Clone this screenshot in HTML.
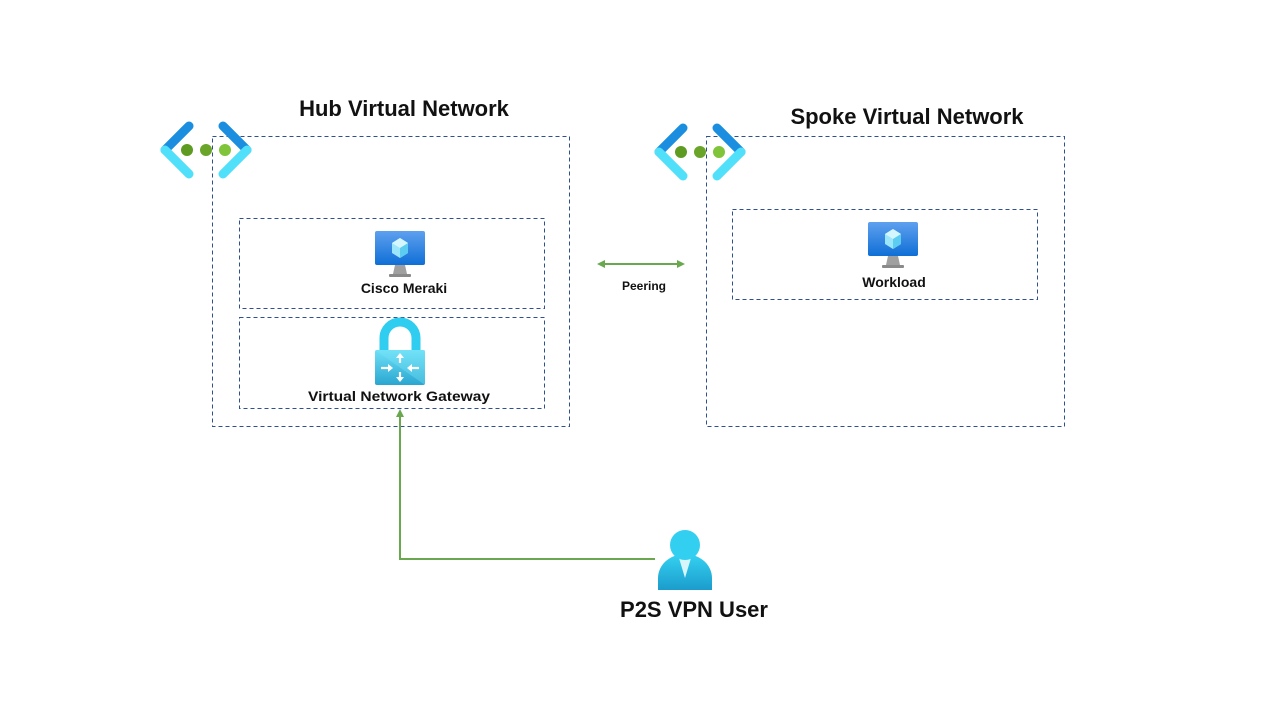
<!DOCTYPE html>
<html><head><meta charset="utf-8"><style>
html,body{margin:0;padding:0;background:#fff;width:1280px;height:720px;overflow:hidden}
svg text{font-family:"Liberation Sans",sans-serif;fill:#111}
</style></head><body>
<svg width="1280" height="720" viewBox="0 0 1280 720" xmlns="http://www.w3.org/2000/svg">
<defs>
<linearGradient id="scr" x1="0" y1="0" x2="0" y2="1"><stop offset="0" stop-color="#5ea0ef"/><stop offset="1" stop-color="#0f6fd6"/></linearGradient>
<linearGradient id="lock" x1="0" y1="0" x2="0" y2="1"><stop offset="0" stop-color="#6ee0f7"/><stop offset="1" stop-color="#2aa6d0"/></linearGradient>
<linearGradient id="usr" x1="0" y1="0" x2="0" y2="1"><stop offset="0" stop-color="#35d2f2"/><stop offset="1" stop-color="#1b9ccc"/></linearGradient>
<g id="vnet">
<line x1="28" y1="4" x2="4" y2="28" stroke="#1b8ee0" stroke-width="9" stroke-linecap="round"/>
<line x1="4" y1="28" x2="28" y2="52" stroke="#50e0fa" stroke-width="9" stroke-linecap="round"/>
<line x1="62" y1="4" x2="86" y2="28" stroke="#1b8ee0" stroke-width="9" stroke-linecap="round"/>
<line x1="86" y1="28" x2="62" y2="52" stroke="#50e0fa" stroke-width="9" stroke-linecap="round"/>
<circle cx="26" cy="28" r="6" fill="#5e9b22"/>
<circle cx="45" cy="28" r="6" fill="#6aa52a"/>
<circle cx="64" cy="28" r="6" fill="#80c43a"/>
</g>
<g id="vm">
<rect x="0" y="0" width="50" height="34" rx="2" fill="url(#scr)"/>
<polygon points="25,7 33,12 33,22 25,27 17,22 17,12" fill="#9be6fb"/>
<polygon points="25,7 33,12 25,17 17,12" fill="#d4f6ff"/>
<polygon points="25,17 33,12 33,22 25,27" fill="#5ccdf0"/>
<polygon points="20,34 30,34 32,43 18,43" fill="#a0a0a0"/>
<rect x="14" y="43" width="22" height="3" rx="1" fill="#8a8a8a"/>
</g>
</defs>

<g fill="none" stroke="#2f4f8f" stroke-width="1" stroke-dasharray="4,3">
<rect x="212.5" y="136.5" width="357" height="290"/>
<rect x="706.5" y="136.5" width="358" height="290"/>
<rect x="239.5" y="218.5" width="305" height="90"/>
<rect x="239.5" y="317.5" width="305" height="91"/>
<rect x="732.5" y="209.5" width="305" height="90"/>
</g>

<use href="#vnet" x="161" y="122"/>
<use href="#vnet" x="655" y="124"/>

<text x="404" y="116" font-size="22" font-weight="bold" text-anchor="middle">Hub Virtual Network</text>
<text x="907" y="124" font-size="22" font-weight="bold" text-anchor="middle">Spoke Virtual Network</text>

<use href="#vm" x="375" y="231"/>
<text x="404" y="293" font-size="14" font-weight="bold" text-anchor="middle">Cisco Meraki</text>
<use href="#vm" x="868" y="222"/>
<text x="894" y="287" font-size="14" font-weight="bold" text-anchor="middle">Workload</text>

<path d="M384,352 V338 a16,16 0 0 1 32,0 V352" fill="none" stroke="#2fcdf0" stroke-width="9"/>
<rect x="375" y="350" width="50" height="35" rx="2" fill="url(#lock)"/>
<polygon points="375,350 425,385 425,350" fill="#7be6fa" opacity="0.35"/>
<g stroke="#fff" stroke-width="2.2" fill="#fff">
<line x1="400" y1="354" x2="400" y2="363"/><polygon points="396,358 400,353 404,358" stroke="none"/>
<line x1="400" y1="372" x2="400" y2="381"/><polygon points="396,377 400,382 404,377" stroke="none"/>
<line x1="381" y1="368" x2="390" y2="368"/><polygon points="388,364 393,368 388,372" stroke="none"/>
<line x1="410" y1="368" x2="419" y2="368"/><polygon points="412,364 407,368 412,372" stroke="none"/>
</g>
<text x="399" y="401" font-size="14" font-weight="bold" text-anchor="middle" textLength="182" lengthAdjust="spacingAndGlyphs">Virtual  Network Gateway</text>

<line x1="603" y1="264" x2="679" y2="264" stroke="#6aa84f" stroke-width="2"/>
<polygon points="597,264 605,260 605,268" fill="#6aa84f"/>
<polygon points="685,264 677,260 677,268" fill="#6aa84f"/>
<text x="644" y="290" font-size="12" font-weight="bold" text-anchor="middle">Peering</text>

<polyline points="655,559 400,559 400,416" fill="none" stroke="#6aa84f" stroke-width="2"/>
<polygon points="400,409 396,417 404,417" fill="#6aa84f"/>

<path d="M658,590 V578 a27,24 0 0 1 54,0 V590 Z" fill="url(#usr)"/>
<polygon points="679,558 691,558 685,578" fill="#d6f6fc"/>
<circle cx="685" cy="545" r="15" fill="#33cff1"/>
<text x="694" y="617" font-size="22" font-weight="bold" text-anchor="middle">P2S VPN User</text>
</svg>
</body></html>
